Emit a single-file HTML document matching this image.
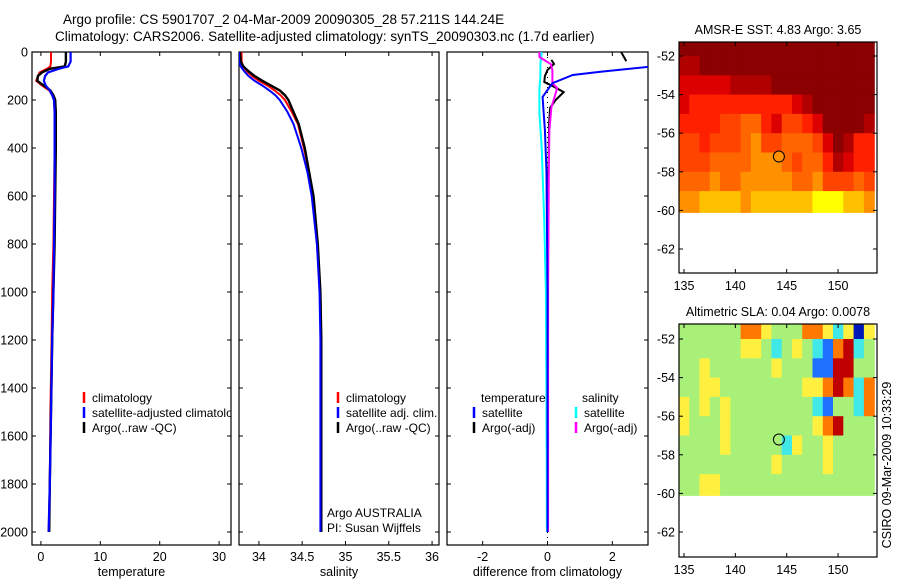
<!DOCTYPE html>
<html><head><meta charset="utf-8"><style>
html,body{margin:0;padding:0;background:#fff;}
svg{display:block;font-family:"Liberation Sans",sans-serif;}
text{fill:#000;}
</style></head><body>
<svg id="c" width="900" height="580" viewBox="0 0 900 580" xmlns="http://www.w3.org/2000/svg">
<text x="63" y="24" font-size="13.5">Argo profile: CS 5901707_2 04-Mar-2009 20090305_28 57.211S 144.24E</text>
<text x="55" y="41" font-size="13.5">Climatology: CARS2006. Satellite-adjusted climatology: synTS_20090303.nc (1.7d earlier)</text>
<g id="g"></g>
</svg>
<script>
// ---------- data ----------
const depthTicks=[0,200,400,600,800,1000,1200,1400,1600,1800,2000];
const tempTicks=[0,10,20,30];
const salTicks=[34,34.5,35,35.5,36];
const diffTicks=[-2,0,2];
const latTicks=[-52,-54,-56,-58,-60,-62];
const lonTicks=[135,140,145,150];

const tDepth=[0,40,60,70,85,100,120,140,160,180,200,250,300,400,600,800,1000,1200,1500,1800,2000];
const tArgo=[4.2,4.2,4.0,1.5,0.2,-0.5,-0.6,0.5,1.6,2.1,2.4,2.5,2.5,2.5,2.4,2.3,2.1,1.9,1.7,1.5,1.4];
const tClim=[1.7,1.7,1.6,1.0,-0.2,-0.5,-0.8,0.2,1.4,1.9,2.2,2.3,2.3,2.3,2.2,2.1,1.9,1.8,1.6,1.5,1.3];
const tSat=[5.0,5.0,4.6,3.0,1.2,0.7,0.5,0.8,1.5,1.9,2.2,2.3,2.3,2.3,2.3,2.2,2.1,1.9,1.7,1.5,1.3];

const sDepth=[0,40,60,80,100,120,140,160,180,200,250,300,400,500,600,800,1000,1200,1500,2000];
const sArgo=[33.78,33.79,33.82,33.88,33.95,34.04,34.14,34.24,34.30,34.34,34.40,34.46,34.53,34.58,34.63,34.68,34.71,34.72,34.72,34.72];
const sClim=[33.80,33.80,33.82,33.86,33.92,34.00,34.10,34.18,34.25,34.30,34.38,34.45,34.52,34.58,34.62,34.67,34.71,34.72,34.72,34.72];
const sSat=[33.77,33.77,33.79,33.83,33.88,33.95,34.04,34.12,34.19,34.24,34.33,34.40,34.49,34.56,34.61,34.67,34.70,34.71,34.71,34.71];

const dTSatDepth=[40,55,62,83,96,130,187,250,325,500,1000,1500,2000];
const dTSat=[5.0,4.0,3.1,1.6,0.78,0.15,-0.15,-0.12,-0.08,-0.03,0,0,0];
const dTArgoTopDepth=[0,38];
const dTArgoTop=[2.27,2.43];
const dTArgoDepth=[33,50,75,100,125,145,167,200,233,300,500,1000,1500,2000];
const dTArgo=[0.12,0.2,0.0,-0.08,-0.1,0.2,0.5,0.25,0.08,0.05,0.03,0.01,0,0];
const dSSatDepth=[0,50,100,158,255,400,712,1000,1500,2000];
const dSSat=[-0.18,-0.22,-0.22,-0.25,-0.25,-0.18,-0.1,-0.05,-0.03,-0.02];
const dSArgoDepth=[0,21,50,75,130,150,187,230,325,500,1000,1500,2000];
const dSArgo=[-0.25,-0.25,0.1,0.15,0.15,0.3,0.22,0.12,0.06,0.04,0.02,0.02,0.02];

// maps: 1-degree cells, lon 135..154, rows from -51.2 down to -60.1
const mapLatEdges=[-51.2,-52,-53,-54,-55,-56,-57,-58,-59,-60.1];
const sstGrid=[
[0,0,0,0,0,0,0,0,0,0,0,0,0,0,0,0,0,0,0],
[1,1,0,0,0,0,0,0,0,0,0,0,0,0,0,0,0,0,0],
[2,2,2,2,2,1,1,1,1,0,0,0,0,0,0,0,0,0,0],
[2,3,3,3,3,3,3,3,3,3,3,2,1,0,0,0,0,0,0],
[3,3,3,3,4,4,5,5,3,2,4,4,3,2,0,0,0,0,1],
[4,4,3,4,4,4,5,6,4,4,5,5,5,4,2,0,1,3,3],
[4,4,4,5,5,5,5,6,6,6,5,4,5,5,3,1,2,3,3],
[5,5,5,6,5,5,6,6,6,6,6,5,5,6,4,4,4,5,4],
[6,6,7,7,7,7,6,7,7,7,7,7,7,8,8,8,7,7,6]];
const slaGrid=[
[0,0,0,0,0,0,2,2,1,0,0,0,2,2,1,-1,1,-3,1],
[0,0,0,0,0,0,1,1,0,-1,0,1,0,-1,-2,2,3,-1,0],
[0,0,1,0,0,0,0,0,0,1,0,0,0,-2,-2,3,3,0,0],
[0,0,1,1,0,0,0,0,0,0,0,0,1,1,2,3,2,-1,2],
[1,0,1,0,1,0,0,0,0,0,0,0,0,-1,-2,0,0,-1,2],
[1,0,0,0,1,0,0,0,0,0,0,0,0,1,2,3,0,0,0],
[0,0,0,0,1,0,0,0,0,0,-1,1,0,0,1,0,0,0,0],
[0,0,0,0,0,0,0,0,0,1,0,0,0,0,1,0,0,0,0],
[0,0,1,1,0,0,0,0,0,0,0,0,0,0,0,0,0,0,0]];
const argoPos=[144.24,-57.21];

// ---------- drawing ----------
const NS="http://www.w3.org/2000/svg";
const G=document.getElementById('g');
function mk(tag,attrs,parent,txt){const e=document.createElementNS(NS,tag);for(const k in attrs)e.setAttribute(k,attrs[k]);if(txt!==undefined)e.textContent=txt;(parent||G).appendChild(e);return e;}

const yTop=52,yBot=545;
const yD=d=>yTop+d*0.24;
const panels=[
 {x0:32,x1:231,min:-1.5,max:32,ticks:tempTicks,label:'temperature',name:'temperature-panel'},
 {x0:239,x1:439,min:33.77,max:36.08,ticks:salTicks,label:'salinity',name:'salinity-panel'},
 {x0:447,x1:648,min:-3.1,max:3.1,ticks:diffTicks,label:'difference from climatology',name:'difference-panel'}];
panels.forEach(p=>{p.sx=v=>p.x0+(v-p.min)/(p.max-p.min)*(p.x1-p.x0);});

const clips=mk('defs',{});
panels.forEach((p,i)=>{
  const cp=mk('clipPath',{id:'cp'+i},clips);
  mk('rect',{x:p.x0,y:yTop,width:p.x1-p.x0,height:yBot-yTop},cp);
});

function axesFor(p,i){
  const g=mk('g',{});
  
  
  mk('rect',{x:p.x0,y:yTop,width:p.x1-p.x0,height:yBot-yTop,fill:'none',stroke:'#000','stroke-width':1.2},g);
  depthTicks.forEach(d=>{
    const y=yD(d);
    mk('line',{x1:p.x0,x2:p.x0+4,y1:y,y2:y,stroke:'#000'},g);
    mk('line',{x1:p.x1-4,x2:p.x1,y1:y,y2:y,stroke:'#000'},g);
  });
  p.ticks.forEach(t=>{
    const x=p.sx(t);
    mk('line',{x1:x,x2:x,y1:yTop,y2:yTop+4,stroke:'#000'},g);
    mk('line',{x1:x,x2:x,y1:yBot-4,y2:yBot,stroke:'#000'},g);
    const tl=mk('text',{x:x,y:561,'font-size':12.5,'text-anchor':'middle'},g,String(t));
    
    
  });
  const xl=mk('text',{x:(p.x0+p.x1)/2,y:576,'font-size':12.5,'text-anchor':'middle'},g,p.label);
  
  
  return g;
}
const pg=panels.map(axesFor);
depthTicks.forEach(d=>{
  const t=mk('text',{x:28,y:yD(d)+4.5,'font-size':12.5,'text-anchor':'end'},G,String(d));
  
  
});

function line(p,i,depths,vals,color,w,name){
  const pts=depths.map((d,k)=>p.sx(vals[k]).toFixed(1)+','+yD(d).toFixed(1)).join(' ');
  const e=mk('polyline',{points:pts,fill:'none',stroke:color,'stroke-width':w,'clip-path':'url(#cp'+i+')'});
  
  
}
line(panels[0],0,tDepth,tClim,'#f00',2,'temperature-climatology-line');
line(panels[0],0,tDepth,tArgo,'#000',2.4,'temperature-argo-line');
line(panels[0],0,tDepth,tSat,'#00f',2.2,'temperature-satellite-line');
line(panels[1],1,sDepth,sClim,'#f00',2,'salinity-climatology-line');
line(panels[1],1,sDepth,sArgo,'#000',2.4,'salinity-argo-line');
line(panels[1],1,sDepth,sSat,'#00f',2,'salinity-satellite-line');
const zx=panels[2].sx(0);
const zl=mk('line',{x1:zx,x2:zx,y1:yTop,y2:yBot,stroke:'#000','stroke-dasharray':'1,4'});


line(panels[2],2,dSSatDepth,dSSat,'#0ff',2,'salinity-satellite-diff-line');
line(panels[2],2,dTArgoTopDepth,dTArgoTop,'#000',2,'temperature-argo-diff-top-line');
line(panels[2],2,dTArgoDepth,dTArgo,'#000',2,'temperature-argo-diff-line');
line(panels[2],2,dSArgoDepth,dSArgo,'#f0f',2,'salinity-argo-diff-line');
line(panels[2],2,dTSatDepth,dTSat,'#00f',2,'temperature-satellite-diff-line');

function legend(x,y,items,name,clip){
  const g=mk('g',clip?{'clip-path':clip}:{});
  
  
  items.forEach((it,k)=>{
    const yy=y+k*15;
    if(it[1])mk('line',{x1:x,x2:x,y1:yy-10,y2:yy+1,stroke:it[1],'stroke-width':2.5},g);
    mk('text',{x:it[1]?x+8:x,y:yy,'font-size':12},g,it[0]);
  });
}
legend(84,402,[['climatology','#f00'],['satellite-adjusted climatology','#00f'],['Argo(..raw -QC)','#000']],'temperature-legend','url(#cp0)');
legend(338,402,[['climatology','#f00'],['satellite adj. clim.','#00f'],['Argo(..raw -QC)','#000']],'salinity-legend');
legend(481,402,[['temperature',null]],'diff-legend-temperature-header');
legend(474,417,[['satellite','#00f'],['Argo(-adj)','#000']],'diff-legend-temperature');
legend(582,402,[['salinity',null]],'diff-legend-salinity-header');
legend(576,417,[['satellite','#0ff'],['Argo(-adj)','#f0f']],'diff-legend-salinity');
mk('text',{x:327,y:517,'font-size':12},G,'Argo AUSTRALIA');
mk('text',{x:327,y:532,'font-size':12},G,'PI: Susan Wijffels');

// maps
const mx0=679,mx1=877;
const lonX=l=>684+(l-135)*10.27;
const hot=['#8b0000','#b00000','#dd0000','#ff2000','#ff4400','#ff6600','#ff9000','#ffc000','#ffff00'];
const jet={'-3':'#0018b8','-2':'#2070ff','-1':'#40e8e8','0':'#a8f078','1':'#fff040','2':'#ff7800','3':'#c00000'};
function map(top,bot,lat52,grid,colf,title,name,circleFill){
  const latY=l=>lat52+(-52-l)*19.3;
  const g=mk('g',{});
  
  
  grid.forEach((row,r)=>{
    const y0=latY(mapLatEdges[r]),y1=latY(mapLatEdges[r+1]);
    row.forEach((v,c)=>{
      const x0=Math.max(mx0,lonX(135+c)-5),x1=Math.min(mx1,lonX(136+c)-5);
      const cell=mk('rect',{x:x0.toFixed(1),y:Math.max(top,y0).toFixed(1),width:(x1-x0+0.6).toFixed(1),height:(y1-Math.max(top,y0)+0.6).toFixed(1),fill:colf(v)},g);
      
      
    });
  });
  mk('rect',{x:mx0,y:top,width:mx1-mx0,height:bot-top,fill:'none',stroke:'#000','stroke-width':1.2},g);
  latTicks.forEach(l=>{const y=latY(l);
    mk('line',{x1:mx0,x2:mx0+4,y1:y,y2:y,stroke:'#000'},g);
    mk('line',{x1:mx1-4,x2:mx1,y1:y,y2:y,stroke:'#000'},g);
    mk('text',{x:675,y:y+4.5,'font-size':12.5,'text-anchor':'end'},g,String(l));});
  lonTicks.forEach(l=>{const x=lonX(l);
    mk('line',{x1:x,x2:x,y1:top,y2:top+4,stroke:'#000'},g);
    mk('line',{x1:x,x2:x,y1:bot-4,y2:bot,stroke:'#000'},g);
    mk('text',{x:x,y:bot+17,'font-size':12.5,'text-anchor':'middle'},g,String(l));});
  mk('text',{x:(mx0+mx1)/2,y:top-8,'font-size':12.5,'text-anchor':'middle'},g,title);
  const ci=mk('circle',{cx:lonX(argoPos[0]),cy:latY(argoPos[1]),r:5.5,fill:circleFill,stroke:'#000','stroke-width':1},g);
  
  
}
map(42,273,56,sstGrid,v=>hot[v],'AMSR-E SST: 4.83 Argo: 3.65','sst-map','#ff9000');
map(324,557,339,slaGrid,v=>jet[String(v)],'Altimetric SLA: 0.04 Argo: 0.0078','sla-map','none');
const cs=mk('text',{x:0,y:0,'font-size':12.5,'text-anchor':'middle',transform:'translate(891,465) rotate(-90)'},G,'CSIRO 09-Mar-2009 10:33:29');


</script>
</body></html>
